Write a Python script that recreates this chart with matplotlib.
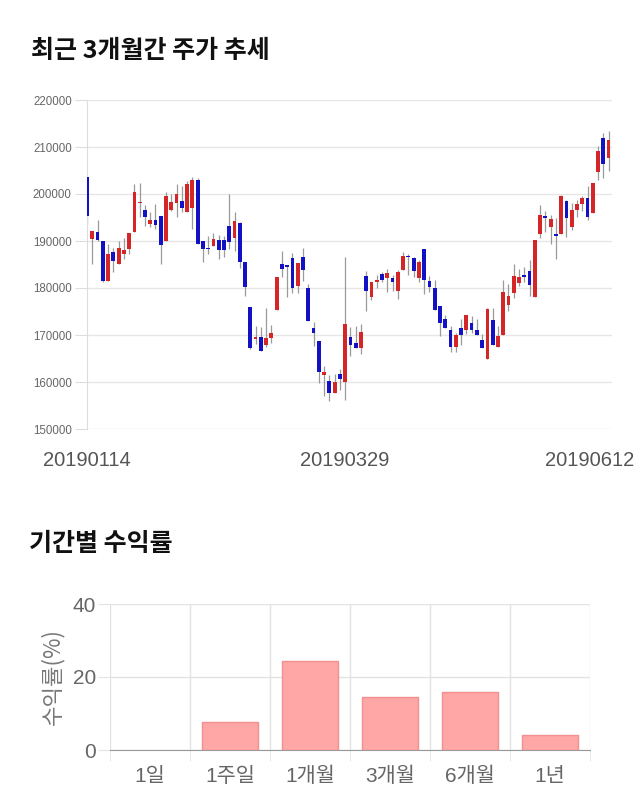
import numpy as np
import matplotlib
matplotlib.use('Agg')
import matplotlib.pyplot as plt
import matplotlib.transforms as mtransforms

plt.rcParams['font.family'] = ['Liberation Sans', 'Noto Sans CJK KR', 'DejaVu Sans']

# daily candles, 2019-01-14 .. 2019-06-12
opens = [203600, 190500, 192000, 190100, 181500, 187700, 185200, 187300, 188300, 191900,
         198000, 196700, 193700, 194400, 195300, 190000, 196600, 198000, 198600, 196100,
         197100, 203000, 189900, 188600, 188900, 190300, 190300, 193100, 190700, 193900,
         185500, 176000, 169100, 169600, 167800, 169300, 175300, 185100, 184800, 186400,
         180400, 186700, 180000, 171400, 168700, 161400, 160300, 157700, 161800, 160000,
         169600, 168400, 167300, 182600, 178000, 181200, 182900, 182100, 182100, 179400,
         183900, 186700, 186400, 182100, 188200, 181400, 179900, 176200, 173400, 171000,
         167500, 171400, 171000, 172500, 171000, 168900, 165000, 173200, 167500, 170000,
         176400, 178900, 181100, 182800, 183600, 178000, 191400, 195300, 193000, 191400,
         191400, 198500, 193000, 196600, 197800, 199100, 196000, 204700, 212000, 207600]
highs = [203600, 192200, 194400, 190100, 189400, 188500, 190100, 190600, 191700, 202100,
         202300, 197600, 196200, 197800, 195300, 200400, 199900, 202100, 201700, 202800,
         203700, 203300, 189900, 191000, 191800, 191200, 191000, 200000, 196100, 194000,
         185500, 176000, 171900, 171700, 175700, 172100, 182400, 187800, 184900, 187500,
         185400, 188600, 180900, 172700, 168700, 163500, 161500, 161800, 162700, 186600,
         171700, 171900, 172300, 183700, 181200, 182700, 183400, 184100, 182800, 183900,
         187700, 187300, 186700, 185900, 188400, 182500, 181800, 176200, 174200, 171900,
         170400, 173500, 174300, 174100, 173500, 170200, 175700, 175700, 171900, 181800,
         180900, 185200, 184100, 184400, 185900, 190200, 197600, 196400, 195600, 194900,
         199800, 198700, 198000, 198700, 199600, 201600, 202400, 210300, 213000, 213400]
lows = [193400, 185200, 190000, 181200, 181500, 183400, 185200, 186200, 187300, 191900,
        195100, 193200, 193000, 192500, 185200, 190000, 196400, 195100, 196100, 196100,
        192600, 189300, 185500, 187300, 188900, 186200, 186600, 188200, 187800, 184200,
        178200, 167000, 168000, 166700, 167500, 168200, 175300, 182300, 178000, 178900,
        178900, 181400, 173000, 167700, 159800, 157000, 155900, 157700, 158400, 156200,
        165500, 167200, 165900, 175200, 177500, 180000, 181200, 179100, 179400, 177700,
        183900, 182700, 182300, 181200, 178700, 179100, 175300, 169800, 171400, 166400,
        166400, 167900, 170200, 170500, 169900, 167300, 165000, 167800, 167500, 170000,
        175200, 177800, 180500, 181200, 178400, 178000, 190700, 191900, 189300, 186100,
        191400, 190900, 192300, 195100, 196400, 194400, 196000, 203000, 203400, 204900]
closes = [195400, 192200, 190200, 181400, 187300, 185700, 188600, 188100, 191600, 200400,
          198200, 195100, 194400, 193400, 189100, 199600, 198400, 200100, 197100, 202100,
          203000, 189300, 188200, 188200, 190500, 188000, 188000, 189800, 194300, 185500,
          180200, 167300, 169600, 166700, 169300, 170400, 182400, 184100, 184400, 179900,
          185400, 183900, 173000, 170400, 162200, 162200, 157700, 160000, 160700, 172300,
          167900, 167200, 170700, 179400, 181200, 181600, 181700, 183200, 181200, 183400,
          186900, 186500, 183600, 185500, 181800, 180200, 175300, 172500, 171400, 167500,
          169900, 169900, 174300, 171000, 169900, 167300, 175500, 167800, 169800, 179100,
          178200, 182500, 182300, 182400, 180700, 190200, 195500, 194800, 194600, 191000,
          199600, 195000, 196600, 197800, 199100, 195100, 202400, 209100, 206400, 211500]
date_labels = ['20190114', '20190329', '20190612']
date_label_idx = [0, 49, 99]

# period returns
periods = ['1일', '1주일', '1개월', '3개월', '6개월', '1년']
returns = [0.0, 7.6, 24.3, 14.6, 15.9, 4.2]

fig = plt.figure(figsize=(6.4, 8.1), dpi=100)

fig.text(31/640, 1 - 51/810, '최근 3개월간 주가 추세', fontsize=18, fontweight='bold',
         family=['Noto Sans CJK KR'], va='center', ha='left', color='#111111')
fig.text(29/640, 1 - 544/810, '기간별 수익률', fontsize=18, fontweight='bold',
         family=['Noto Sans CJK KR'], va='center', ha='left', color='#111111')

# ---- candle chart ----
ax = fig.add_axes([87/640, 1 - 429/810, 525/640, 329/810])
o = np.array(opens); h = np.array(highs); l = np.array(lows); c = np.array(closes)
x = np.arange(len(o))
up = c >= o
cols = np.where(up, '#d42626', '#1212c4')
ax.vlines(x, l, h, color='#9a9a9a', linewidth=0.9, zorder=2)
bottom = np.minimum(o, c)
height = np.maximum(np.abs(c - o), 350)
ax.bar(x, height, bottom=bottom, width=0.72, color=cols, linewidth=0, zorder=3)

ax.set_xlim(0, 99.65)
ax.set_ylim(150000, 220000)
ax.set_yticks(np.arange(150000, 220001, 10000))
ax.yaxis.grid(True, color='#e6e6e6', linewidth=1)
ax.set_axisbelow(True)
for s in ['top', 'right', 'bottom']:
    ax.spines[s].set_visible(False)
ax.spines['left'].set_color('#dddddd')
ax.tick_params(axis='y', length=9, color='#dddddd', labelsize=8.3, labelcolor='#666666', pad=2)
ax.set_xticks(date_label_idx)
ax.set_xticklabels(date_labels)
ax.tick_params(axis='x', length=0, labelsize=14.5, labelcolor='#555555', pad=16)
lbls = ax.get_xticklabels()
lbls[-1].set_transform(lbls[-1].get_transform() +
                       mtransforms.ScaledTranslation(-0.19, 0, fig.dpi_scale_trans))

# ---- return bars ----
ax2 = fig.add_axes([110/640, 1 - 750/810, 480/640, 146/810])
xp = np.arange(len(periods))
lw = [1 if r != 0 else 0 for r in returns]
ax2.bar(xp, returns, width=0.7, color='#ffa6a6', edgecolor='#f29090', linewidth=lw, zorder=3)
ax2.set_xlim(-0.5, len(periods) - 0.5)
ax2.set_ylim(0, 40)
ax2.set_yticks([0, 20, 40])
ax2.set_xticks(xp)
ax2.set_xticklabels(periods, family=['Liberation Sans', 'Noto Sans CJK KR'])
ax2.set_xticks(np.arange(-0.5, len(periods)), minor=True)
ax2.yaxis.grid(True, color='#e3e3e3', linewidth=1)
ax2.xaxis.grid(True, which='minor', color='#e3e3e3', linewidth=1)
ax2.set_axisbelow(True)
for s in ['top', 'right', 'left']:
    ax2.spines[s].set_visible(False)
ax2.spines['bottom'].set_color('#999999')
ax2.tick_params(axis='x', which='major', length=0, labelsize=15, labelcolor='#666666', pad=12)
ax2.tick_params(axis='x', which='minor', length=8, color='#e3e3e3')
ax2.tick_params(axis='y', length=9, color='#e3e3e3', labelsize=15, labelcolor='#666666', pad=1)
ax2.set_ylabel('수익률(%)', fontsize=16, color='#777777',
               family=['Noto Sans CJK KR', 'Liberation Sans'], labelpad=6)

fig.savefig('out.png', dpi=100)
